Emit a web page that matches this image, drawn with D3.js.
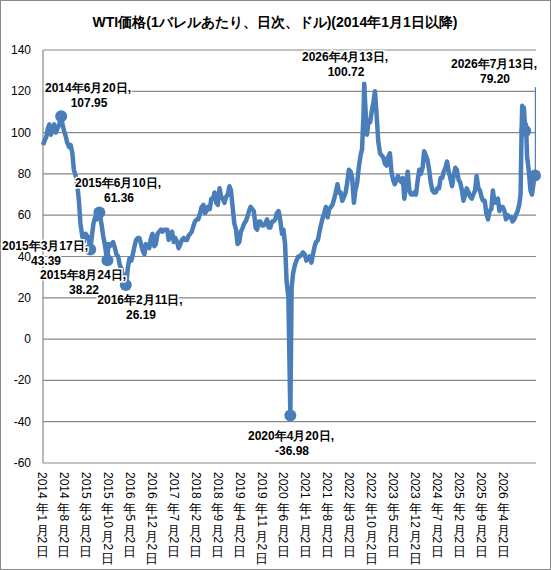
<!DOCTYPE html>
<html><head><meta charset="utf-8">
<script src="https://cdn.jsdelivr.net/npm/d3@7"></script>
<style>body{margin:0;background:#fff}text{font-family:"Liberation Sans",Arial,sans-serif}</style>
</head><body><svg id="c" width="551" height="570"></svg>
<script>
const years=[2014,2015,2016,2017,2018,2019,2020,2021,2022,2023,2024,2025];
const halfMonthly=[
[94,96,98,102,104,99,101,104,100,102,104,107,104,101,98,95,93,94,90,82,79,75,67,56],
[50,47,51,50,49,44,50,56,59,58,60,60,55,50,45,40,46,45,46,47,44,41,40,36],
[34,29,31,27,35,39,38,41,45,48,49,49,46,43,41,46,45,44,49,51,45,46,51,52],
[53,52,53,53,53,48,51,52,47,49,47,44,46,48,49,48,48,50,51,52,55,57,58,58],
[61,64,65,61,62,64,63,68,68,71,66,65,73,69,68,66,69,70,74,72,63,56,53,46],
[47,52,54,56,57,59,62,64,63,62,54,53,57,57,55,55,56,58,54,54,57,57,58,61],
[62,58,51,53,46,28,20,15,25,32,36,38,40,40,41,42,41,38,39,40,37,41,45,47],
[48,52,56,59,61,64,59,63,64,65,68,71,75,71,71,67,69,71,76,82,81,78,66,72],
[76,83,89,92,110,115,99,105,105,110,115,120,108,96,90,89,88,85,84,88,90,81,77,75],
[77,79,77,76,78,68,75,81,72,70,70,71,70,76,82,80,83,91,89,87,82,76,72,71],
[71,73,73,78,78,81,83,86,81,78,74,79,83,82,77,76,72,67,70,73,71,69,68,70],
[72,79,73,72,69,67,67,61,58,62,63,72,66,67,68,62,64,64,62,58,60,59,59,57]];
const extraDates=["2014-06-20","2015-03-17","2015-06-10","2015-08-24","2016-02-11","2020-04-20","2022-03-08",
"2026-01-01","2026-01-16","2026-02-01","2026-02-16","2026-03-01","2026-03-10","2026-03-16","2026-03-25","2026-04-01","2026-04-13","2026-04-20","2026-05-01","2026-05-15","2026-06-01","2026-06-15","2026-07-01","2026-07-13"];
const extraValues=[107.95,43.39,61.36,38.22,26.19,-36.98,123.7,
58,60,62,65,70,100,113,108,112,100.72,104,88,82,72,70,76,79.2];
const spikeDates=["2026-07-13","2026-07-16","2026-07-17"];
const spikeValues=[79.2,76,122];
const markDates=["2014-06-20","2015-03-17","2015-06-10","2015-08-24","2016-02-11","2020-04-20","2026-04-13","2026-07-13"];
const markValues=[107.95,43.39,61.36,38.22,26.19,-36.98,100.72,79.2];
const markLabels=[["2014年6月20日,","107.95"],["2015年3月17日,","43.39"],["2015年6月10日,","61.36"],["2015年8月24日,","38.22"],["2016年2月11日,","26.19"],["2020年4月20日,","-36.98"],["2026年4月13日,","100.72"],["2026年7月13日,","79.20"]];
const labelPos=[[88,92],[45,250],[118,187],[83,279],[140,304],[291,440],[345,61],[494,68]];
const yTicks=[-60,-40,-20,0,20,40,60,80,100,120,140];
const xLabels=["2014年1月2日","2014年8月2日","2015年3月2日","2015年10月2日","2016年5月2日","2016年12月2日","2017年7月2日","2018年2月2日","2018年9月2日","2019年4月2日","2019年11月2日","2020年6月2日","2021年1月2日","2021年8月2日","2022年3月2日","2022年10月2日","2023年5月2日","2023年12月2日","2024年7月2日","2025年2月2日","2025年9月2日","2026年4月2日"];

const P=d3.timeParse("%Y-%m-%d");
let data=[];
years.forEach((y,i)=>halfMonthly[i].forEach((v,j)=>{
  const d=new Date(y,Math.floor(j/2),j%2?16:2);
  data.push({d,v});
}));
extraDates.forEach((s,i)=>data.push({d:P(s),v:extraValues[i]}));
data=data.filter(p=>!(p.d.getFullYear()==2020&&p.d.getMonth()==3&&p.d.getDate()==16));
data.sort((a,b)=>a.d-b.d);

const svg=d3.select("#c");
svg.append("rect").attr("x",0.5).attr("y",0.5).attr("width",550).attr("height",569).attr("fill","#fff").attr("stroke","#888");
const x=d3.scaleTime().domain([P("2014-01-02"),P("2026-07-13")]).range([43,535]);
const y=d3.scaleLinear().domain([-60,140]).range([463,50]);
const xl=d3.scalePoint().domain(xLabels).range([42,503]);

svg.append("g").selectAll("line").data(yTicks).join("line")
 .attr("x1",43).attr("x2",536).attr("y1",d=>y(d)).attr("y2",d=>y(d)).attr("stroke","#888").attr("stroke-width",1.2);
svg.append("line").attr("x1",43).attr("x2",43).attr("y1",50).attr("y2",463).attr("stroke","#888").attr("stroke-width",1.2);
svg.append("g").selectAll("text").data(yTicks).join("text")
 .attr("x",31).attr("y",d=>y(d)+4).attr("text-anchor","end").attr("font-size",12).text(d=>d);

const xg=svg.append("g").attr("font-size",12);
xLabels.forEach(lab=>{
  const cx=xl(lab); let cy=472;
  const runs=lab.match(/\d+|[^\d]/g);
  runs.forEach(r=>{
    if(/\d/.test(r)){
      const w=r.length*6.9;
      xg.append("text").attr("transform",`translate(${cx-4},${cy}) rotate(90)`).text(r);
      cy+=w+1;
    } else {
      xg.append("text").attr("x",cx).attr("y",cy+12).attr("text-anchor","middle").attr("font-size",13).text(r);
      cy+=14;
    }
  });
});

const line=d3.line().x(p=>x(p.d)).y(p=>y(p.v));
svg.append("path").datum(data).attr("d",line).attr("fill","none").attr("stroke","#4a7ebb").attr("stroke-width",4.5).attr("stroke-linejoin","round");
const sp=spikeDates.map((s,i)=>({d:P(s),v:spikeValues[i]}));
svg.append("path").datum(sp).attr("d",line).attr("fill","none").attr("stroke","#4a7ebb").attr("stroke-width",1.2);
svg.append("g").selectAll("circle").data(markDates).join("circle")
 .attr("cx",d=>x(P(d))).attr("cy",(d,i)=>y(markValues[i])).attr("r",6).attr("fill","#4a7ebb");

const lg=svg.append("g").attr("font-size",12).attr("font-weight","bold").attr("text-anchor","middle");
markLabels.forEach((L,i)=>{
  L.forEach((t,k)=>{
    lg.append("text").attr("x",labelPos[i][0]+(k?1:0)).attr("y",labelPos[i][1]+k*15)
     .attr("stroke","#fff").attr("stroke-width",3).attr("paint-order","stroke").text(t);
  });
});
svg.append("text").attr("x",275).attr("y",27).attr("text-anchor","middle").attr("font-size",14).attr("font-weight","bold").text("WTI価格(1バレルあたり、日次、ドル)(2014年1月1日以降)");
</script></body></html>
